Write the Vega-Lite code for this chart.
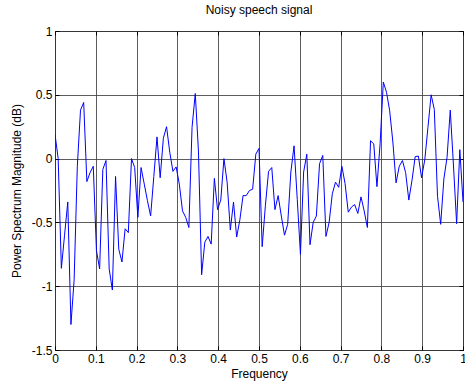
{
  "$schema": "https://vega.github.io/schema/vega-lite/v6.json",
  "width": 408,
  "height": 319,
  "autosize": {"type": "none"},
  "padding": {"left": 55, "top": 31, "right": 2, "bottom": 35},
  "title": {"text": "Noisy speech signal", "font": "Liberation Sans", "fontSize": 12, "fontWeight": "normal", "color": "#000000", "offset": 8},
  "config": {
    "view": {"stroke": "#000000", "strokeWidth": 1},
    "axis": {
      "labelFont": "Liberation Sans",
      "labelFontSize": 12,
      "labelColor": "#000000",
      "titleFont": "Liberation Sans",
      "titleFontSize": 12,
      "titleFontWeight": "normal",
      "titleColor": "#000000",
      "domain": false,
      "tickColor": "#000000",
      "gridColor": "#404040",
      "gridWidth": 1,
      "gridOpacity": 0.85
    }
  },
  "data": {
    "values": [
      {"f": 0, "db": 0.19}, {"f": 0.0078, "db": 0.0}, {"f": 0.0156, "db": -0.86}, {"f": 0.0234, "db": -0.6},
      {"f": 0.0313, "db": -0.34}, {"f": 0.0391, "db": -1.3}, {"f": 0.0469, "db": -0.95}, {"f": 0.0547, "db": -0.06},
      {"f": 0.0625, "db": 0.38}, {"f": 0.0703, "db": 0.44}, {"f": 0.0781, "db": -0.18}, {"f": 0.0859, "db": -0.11},
      {"f": 0.0938, "db": -0.06}, {"f": 0.1016, "db": -0.72}, {"f": 0.1094, "db": -0.865}, {"f": 0.1172, "db": -0.085},
      {"f": 0.125, "db": -0.015}, {"f": 0.1328, "db": -0.865}, {"f": 0.1406, "db": -1.03}, {"f": 0.1484, "db": -0.14},
      {"f": 0.1563, "db": -0.71}, {"f": 0.1641, "db": -0.81}, {"f": 0.1719, "db": -0.55}, {"f": 0.1797, "db": -0.58},
      {"f": 0.1875, "db": 0.0}, {"f": 0.1953, "db": -0.07}, {"f": 0.2031, "db": -0.46}, {"f": 0.2109, "db": -0.07},
      {"f": 0.2188, "db": -0.2}, {"f": 0.2266, "db": -0.33}, {"f": 0.2344, "db": -0.45}, {"f": 0.2422, "db": -0.14},
      {"f": 0.25, "db": 0.17}, {"f": 0.2578, "db": -0.15}, {"f": 0.2656, "db": 0.16}, {"f": 0.2734, "db": 0.25},
      {"f": 0.2813, "db": 0.05}, {"f": 0.2891, "db": -0.1}, {"f": 0.2969, "db": -0.065}, {"f": 0.3047, "db": -0.2},
      {"f": 0.3125, "db": -0.41}, {"f": 0.3203, "db": -0.46}, {"f": 0.3281, "db": -0.54}, {"f": 0.3359, "db": 0.245},
      {"f": 0.3438, "db": 0.51}, {"f": 0.3516, "db": 0.06}, {"f": 0.3594, "db": -0.91}, {"f": 0.3672, "db": -0.655},
      {"f": 0.375, "db": -0.61}, {"f": 0.3828, "db": -0.67}, {"f": 0.3906, "db": -0.155}, {"f": 0.3984, "db": -0.4},
      {"f": 0.4063, "db": -0.325}, {"f": 0.4141, "db": 0.0}, {"f": 0.4219, "db": -0.185}, {"f": 0.4297, "db": -0.56},
      {"f": 0.4375, "db": -0.34}, {"f": 0.4453, "db": -0.615}, {"f": 0.4531, "db": -0.48}, {"f": 0.4609, "db": -0.29},
      {"f": 0.4688, "db": -0.29}, {"f": 0.4766, "db": -0.25}, {"f": 0.4844, "db": -0.24}, {"f": 0.4922, "db": 0.035},
      {"f": 0.5, "db": 0.08}, {"f": 0.5078, "db": -0.69}, {"f": 0.5156, "db": -0.37}, {"f": 0.5234, "db": -0.1},
      {"f": 0.5313, "db": -0.07}, {"f": 0.5391, "db": -0.4}, {"f": 0.5469, "db": -0.29}, {"f": 0.5547, "db": -0.45},
      {"f": 0.5625, "db": -0.6}, {"f": 0.5703, "db": -0.515}, {"f": 0.5781, "db": -0.105}, {"f": 0.5859, "db": 0.1},
      {"f": 0.5938, "db": -0.32}, {"f": 0.6016, "db": -0.75}, {"f": 0.6094, "db": -0.105}, {"f": 0.6172, "db": 0.035},
      {"f": 0.625, "db": -0.675}, {"f": 0.6328, "db": -0.5}, {"f": 0.6406, "db": -0.45}, {"f": 0.6484, "db": -0.04},
      {"f": 0.6563, "db": 0.025}, {"f": 0.6641, "db": -0.61}, {"f": 0.6719, "db": -0.5}, {"f": 0.6797, "db": -0.275},
      {"f": 0.6875, "db": -0.185}, {"f": 0.6953, "db": -0.225}, {"f": 0.7031, "db": -0.06}, {"f": 0.7109, "db": -0.195},
      {"f": 0.7188, "db": -0.42}, {"f": 0.7266, "db": -0.38}, {"f": 0.7344, "db": -0.36}, {"f": 0.7422, "db": -0.43},
      {"f": 0.75, "db": -0.3}, {"f": 0.7578, "db": -0.41}, {"f": 0.7656, "db": -0.54}, {"f": 0.7734, "db": 0.14},
      {"f": 0.7813, "db": 0.115}, {"f": 0.7891, "db": -0.22}, {"f": 0.7969, "db": 0.12}, {"f": 0.8047, "db": 0.6},
      {"f": 0.8125, "db": 0.52}, {"f": 0.8203, "db": 0.375}, {"f": 0.8281, "db": 0.13}, {"f": 0.8359, "db": -0.19},
      {"f": 0.8438, "db": -0.06}, {"f": 0.8516, "db": -0.015}, {"f": 0.8594, "db": -0.11}, {"f": 0.8672, "db": -0.325},
      {"f": 0.875, "db": -0.17}, {"f": 0.8828, "db": 0.015}, {"f": 0.8906, "db": 0.02}, {"f": 0.8984, "db": -0.15},
      {"f": 0.9063, "db": -0.01}, {"f": 0.9141, "db": 0.245}, {"f": 0.9219, "db": 0.5}, {"f": 0.9297, "db": 0.385},
      {"f": 0.9375, "db": -0.295}, {"f": 0.9453, "db": -0.515}, {"f": 0.9531, "db": -0.16}, {"f": 0.9609, "db": 0.01},
      {"f": 0.9688, "db": 0.38}, {"f": 0.9766, "db": -0.05}, {"f": 0.9844, "db": -0.51}, {"f": 0.9922, "db": 0.07},
      {"f": 1, "db": -0.34}
    ]
  },
  "layer": [
    {
      "mark": {"type": "line", "color": "#0000ff", "strokeWidth": 1, "clip": true},
      "encoding": {
        "x": {
          "field": "f", "type": "quantitative",
          "scale": {"domain": [0, 1], "nice": false, "zero": false},
          "axis": {
            "title": "Frequency",
            "values": [0, 0.1, 0.2, 0.3, 0.4, 0.5, 0.6, 0.7, 0.8, 0.9, 1],
            "labelExpr": "replace(format(datum.value, '~g'), '\u2212', '-')",
            "grid": true,
            "tickSize": -4,
            "labelPadding": 7,
            "titlePadding": 4,
            "labelFlush": false
          }
        },
        "y": {
          "field": "db", "type": "quantitative",
          "scale": {"domain": [-1.5, 1], "nice": false, "zero": false},
          "axis": {
            "title": "Power Spectrum Magnitude (dB)",
            "values": [-1.5, -1, -0.5, 0, 0.5, 1],
            "labelExpr": "replace(format(datum.value, '~g'), '\u2212', '-')",
            "grid": true,
            "tickSize": -4,
            "labelPadding": 7,
            "titlePadding": 8,
            "labelFlush": false
          }
        }
      }
    },
    {
      "mark": {"type": "line", "opacity": 0},
      "encoding": {
        "x": {
          "field": "f", "type": "quantitative",
          "scale": {"domain": [0, 1], "nice": false, "zero": false},
          "axis": {"orient": "top", "title": null, "labels": false, "grid": false, "tickSize": -4,
                   "values": [0, 0.1, 0.2, 0.3, 0.4, 0.5, 0.6, 0.7, 0.8, 0.9, 1]}
        },
        "y": {
          "field": "db", "type": "quantitative",
          "scale": {"domain": [-1.5, 1], "nice": false, "zero": false},
          "axis": {"orient": "right", "title": null, "labels": false, "grid": false, "tickSize": -4,
                   "values": [-1.5, -1, -0.5, 0, 0.5, 1]}
        }
      }
    }
  ],
  "resolve": {"axis": {"x": "independent", "y": "independent"}}
}
